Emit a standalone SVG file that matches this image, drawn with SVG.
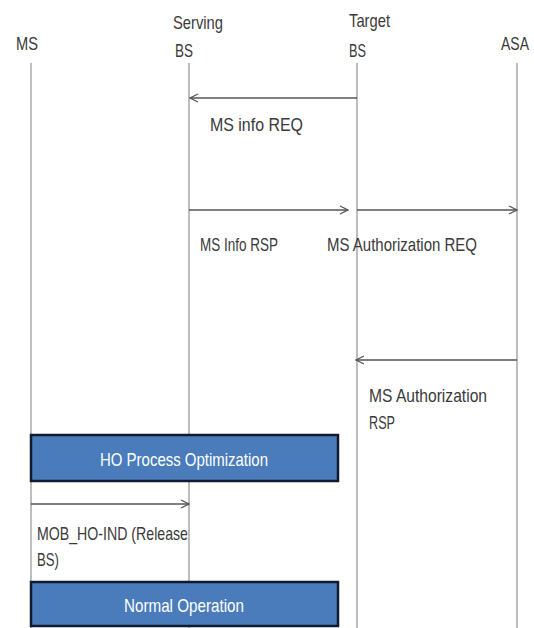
<svg xmlns="http://www.w3.org/2000/svg" width="534" height="628" viewBox="0 0 534 628">
<defs>
<style>
text{font-family:"Liberation Sans","Open Sans",sans-serif;font-size:19px;fill:#3a3a3a}
.life{stroke:#9a9a9a;stroke-width:1.3;fill:none}
.msg{stroke:#555;stroke-width:1.3;fill:none;marker-end:url(#ah)}
.box{fill:#4a7cbc;stroke:#111a2e;stroke-width:2.5}
.bt{fill:#ffffff;text-anchor:middle}
</style>
<marker id="ah" markerWidth="10" markerHeight="10" refX="9" refY="5" orient="auto" markerUnits="userSpaceOnUse">
<path d="M1,1 L9,5 L1,9" fill="none" stroke="#555" stroke-width="1.3"/>
</marker>
</defs>
<rect width="534" height="628" fill="#ffffff"/>
<g id="lifelines">
<g id="MS"><text x="16" y="50" textLength="22" lengthAdjust="spacingAndGlyphs">MS</text><line class="life" x1="31" y1="63" x2="31" y2="628"/></g>
<g id="ServingBS"><text x="173" y="29" textLength="50" lengthAdjust="spacingAndGlyphs">Serving</text><text x="175" y="57" textLength="18" lengthAdjust="spacingAndGlyphs">BS</text><line class="life" x1="189" y1="63" x2="189" y2="628"/></g>
<g id="TargetBS"><text x="349" y="27" textLength="41" lengthAdjust="spacingAndGlyphs">Target</text><text x="349" y="57" textLength="17" lengthAdjust="spacingAndGlyphs">BS</text><line class="life" x1="357" y1="63" x2="357" y2="628"/></g>
<g id="ASA"><text x="501" y="50" font-size="17" textLength="28" lengthAdjust="spacingAndGlyphs">ASA</text><line class="life" x1="517" y1="63" x2="517" y2="628"/></g>
</g>
<g id="connectors">
<line class="msg" x1="357" y1="98" x2="190" y2="98"/>
<line class="msg" x1="189" y1="210" x2="348" y2="210"/>
<line class="msg" x1="357" y1="210" x2="517" y2="210"/>
<line class="msg" x1="517" y1="360" x2="356" y2="360"/>
<line class="msg" x1="31" y1="504" x2="189" y2="504"/>
</g>
<g id="labels">
<text x="210" y="131" textLength="93" lengthAdjust="spacingAndGlyphs">MS info REQ</text>
<text x="200" y="251" textLength="78" lengthAdjust="spacingAndGlyphs">MS Info RSP</text>
<text x="327" y="251" textLength="150" lengthAdjust="spacingAndGlyphs">MS Authorization REQ</text>
<text x="369" y="402" textLength="118" lengthAdjust="spacingAndGlyphs">MS Authorization</text>
<text x="369" y="429" textLength="26" lengthAdjust="spacingAndGlyphs">RSP</text>
<text x="37" y="540" textLength="151" lengthAdjust="spacingAndGlyphs">MOB_HO-IND (Release</text>
<text x="37" y="566" textLength="22" lengthAdjust="spacingAndGlyphs">BS)</text>
</g>
<g id="HOProcessOptimization"><rect class="box" x="31" y="435" width="307" height="46"/><text class="bt" x="184" y="466" textLength="168" lengthAdjust="spacingAndGlyphs">HO Process Optimization</text></g>
<g id="NormalOperation"><rect class="box" x="31" y="582" width="307" height="44"/><text class="bt" x="184" y="612" textLength="120" lengthAdjust="spacingAndGlyphs">Normal Operation</text></g>
</svg>
